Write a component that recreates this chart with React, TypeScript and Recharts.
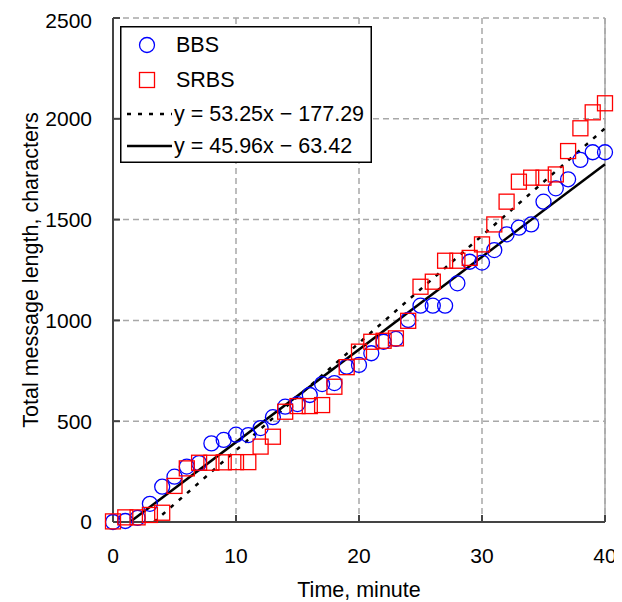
import React from "react";
import {
  ScatterChart, Scatter, XAxis, YAxis, CartesianGrid, ReferenceLine, Legend,
} from "recharts";

const FONT = "'Liberation Sans', Arial, sans-serif";

// elapsed time, minutes
const minutes = [
  0, 1, 2, 3, 4, 5, 6, 7, 8, 9, 10, 11, 12, 13, 14, 15, 16, 17, 18, 19, 20,
  21, 22, 23, 24, 25, 26, 27, 28, 29, 30, 31, 32, 33, 34, 35, 36, 37, 38, 39, 40,
];

// total message length (characters)
const bbs = [
  0, 5, 20, 90, 175, 225, 275, 292, 390, 407, 433, 431, 466, 520, 572, 585, 630, 684, 689, 770, 779,
  837, 894, 908, 1002, 1073, 1073, 1073, 1184, 1291, 1287, 1349, 1427, 1460, 1476, 1589, 1655, 1700, 1796, 1834, 1834,
];
const srbs = [
  3, 23, 23, 35, 46, 179, 266, 294, 294, 296, 297, 297, 374, 423, 547, 575, 575, 580, 671, 768, 845,
  894, 899, 911, 998, 1167, 1192, 1296, 1296, 1310, 1377, 1476, 1589, 1688, 1708, 1708, 1724, 1840, 1953, 2032, 2077,
];

// linear fits shown in the legend: y = slope * x + intercept
const fitSrbs = { slope: 53.25, intercept: -177.29, label: "y = 53.25x \u2212 177.29" };
const fitBbs = { slope: 45.96, intercept: -63.42, label: "y = 45.96x \u2212 63.42" };

const xTicks = [0, 10, 20, 30, 40];
const yTicks = [0, 500, 1000, 1500, 2000, 2500];

const bbsData = minutes.map((t, i) => ({ t, v: bbs[i] }));
const srbsData = minutes.map((t, i) => ({ t, v: srbs[i] }));

const fitSegment = (f: { slope: number; intercept: number }) => {
  const x0 = -f.intercept / f.slope;
  const x1 = 40;
  return [
    { x: x0, y: 0 },
    { x: x1, y: f.slope * x1 + f.intercept },
  ];
};

const CircleMark = (p: any) => (
  <circle cx={p.cx} cy={p.cy} r={7.5} fill="none" stroke="#0000ff" strokeWidth={1.3} />
);
const SquareMark = (p: any) => (
  <rect x={p.cx - 7.5} y={p.cy - 7.5} width={15} height={15} fill="none" stroke="#ff0000" strokeWidth={1.3} />
);

const LegendBox = () => (
  <svg width={252} height={137} style={{ display: "block" }}>
    <rect x={0.75} y={0.75} width={250.5} height={135.5} fill="#fff" stroke="#000" strokeWidth={1.5} />
    <circle cx={27} cy={19} r={7.5} fill="none" stroke="#0000ff" strokeWidth={1.3} />
    <rect x={19.5} y={46.5} width={15} height={15} fill="none" stroke="#ff0000" strokeWidth={1.3} />
    <line x1={7} y1={88} x2={52} y2={88} stroke="#000" strokeWidth={2.5} strokeDasharray="4 7" />
    <line x1={7} y1={120} x2={52} y2={120} stroke="#000" strokeWidth={2.5} />
    <g fontFamily={FONT} fontSize={21.5} fill="#000">
      <text x={56} y={26}>BBS</text>
      <text x={56} y={61}>SRBS</text>
      <text x={54} y={95}>{fitSrbs.label}</text>
      <text x={54} y={127}>{fitBbs.label}</text>
    </g>
  </svg>
);

export default function App() {
  return (
    <div style={{ fontFamily: FONT }}>
      <ScatterChart
        width={614}
        height={594}
        margin={{ top: 10, right: 17, bottom: 0, left: 0 }}
      >
        <CartesianGrid stroke="#a8a8a8" strokeWidth={1.5} strokeDasharray="6 4" />
        <XAxis
          type="number"
          dataKey="t"
          domain={[0, 40]}
          ticks={xTicks}
          height={80}
          tickSize={-7}
          tickMargin={33}
          stroke="#444"
          strokeWidth={2}
          tick={{ fontSize: 21, fill: "#000" }}
          label={{ value: "Time, minute", position: "insideBottom", offset: 5, fontSize: 21.5, fill: "#000" }}
        />
        <YAxis
          type="number"
          dataKey="v"
          domain={[0, 2500]}
          ticks={yTicks}
          width={105}
          tickSize={-7}
          tickMargin={28}
          stroke="#444"
          strokeWidth={2}
          tick={{ fontSize: 21, fill: "#000" }}
          label={{
            value: "Total message length, characters",
            angle: -90,
            position: "insideLeft",
            offset: 22,
            fontSize: 21.5,
            fill: "#000",
            style: { textAnchor: "middle" },
          }}
        />
        <ReferenceLine x={40} stroke="#a8a8a8" strokeWidth={1.5} />
        <Scatter name="BBS" data={bbsData} shape={CircleMark} isAnimationActive={false} />
        <Scatter name="SRBS" data={srbsData} shape={SquareMark} isAnimationActive={false} />
        <ReferenceLine
          segment={fitSegment(fitSrbs)}
          stroke="#000"
          strokeWidth={2.5}
          strokeDasharray="4 7"
        />
        <ReferenceLine segment={fitSegment(fitBbs)} stroke="#000" strokeWidth={2.5} />
        <Legend
          layout="horizontal"
          verticalAlign="middle"
          align="center"
          content={() => <LegendBox />}
          wrapperStyle={{ left: 112, top: 18, width: 252, height: 137 }}
        />
      </ScatterChart>
    </div>
  );
}
